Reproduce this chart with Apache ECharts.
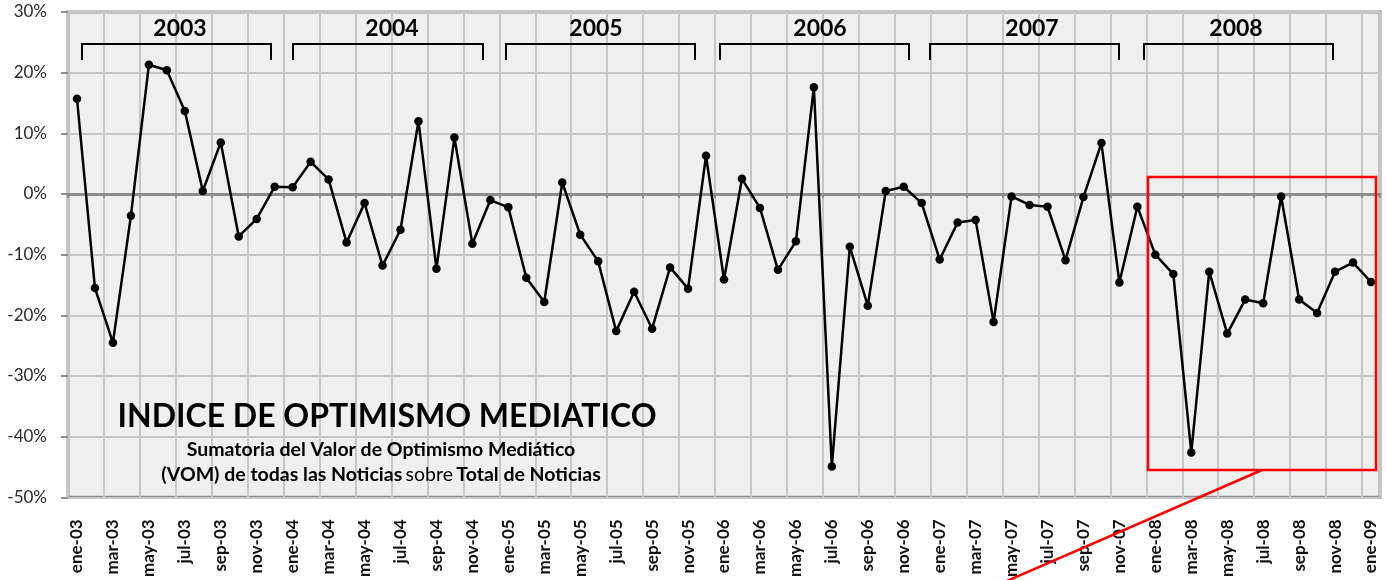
<!DOCTYPE html>
<html lang="es">
<head>
<meta charset="UTF-8">
<title>Indice de Optimismo Mediatico</title>
<script src="https://cdn.jsdelivr.net/npm/echarts@6/dist/echarts.min.js"></script>
<style>
    html, body { margin: 0; padding: 0; background: #fff; }
    #chart { width: 1386px; height: 580px; }
</style>
</head>
<body>
<div id="chart"></div>
<script>
// meses (eje x)
var meses = [
    'ene-03','feb-03','mar-03','abr-03','may-03','jun-03','jul-03','ago-03','sep-03','oct-03','nov-03','dic-03',
    'ene-04','feb-04','mar-04','abr-04','may-04','jun-04','jul-04','ago-04','sep-04','oct-04','nov-04','dic-04',
    'ene-05','feb-05','mar-05','abr-05','may-05','jun-05','jul-05','ago-05','sep-05','oct-05','nov-05','dic-05',
    'ene-06','feb-06','mar-06','abr-06','may-06','jun-06','jul-06','ago-06','sep-06','oct-06','nov-06','dic-06',
    'ene-07','feb-07','mar-07','abr-07','may-07','jun-07','jul-07','ago-07','sep-07','oct-07','nov-07','dic-07',
    'ene-08','feb-08','mar-08','abr-08','may-08','jun-08','jul-08','ago-08','sep-08','oct-08','nov-08','dic-08',
    'ene-09'
];

// indice de optimismo mediatico, en %
var indice = [
    15.7, -15.5, -24.5, -3.6, 21.3, 20.4, 13.7, 0.5, 8.5, -7.0, -4.1, 1.2,
    1.1, 5.3, 2.4, -8.0, -1.5, -11.8, -5.9, 12.0, -12.3, 9.3, -8.2, -1.0,
    -2.2, -13.8, -17.8, 1.9, -6.7, -11.1, -22.6, -16.1, -22.2, -12.1, -15.6, 6.3,
    -14.1, 2.5, -2.3, -12.5, -7.8, 17.6, -44.9, -8.7, -18.4, 0.5, 1.2, -1.5,
    -10.8, -4.7, -4.3, -21.1, -0.4, -1.8, -2.1, -10.9, -0.5, 8.4, -14.6, -2.1,
    -10.0, -13.2, -42.6, -12.8, -23.0, -17.4, -18.0, -0.4, -17.4, -19.6, -12.8, -11.3,
    -14.5
];

// etiquetas de las llaves de año
var anios = ['2003', '2004', '2005', '2006', '2007', '2008'];

var chart = echarts.init(document.getElementById('chart'));
var fuente = 'Lato, "Open Sans", sans-serif';

// llaves dibujadas a mano en el original (posiciones en px)
var llaveX = [[82, 271], [293, 483], [506, 695], [720, 909], [930, 1119], [1144, 1333]];
var textoX = [180, 392, 596, 820, 1032, 1236];
var graficos = [];
anios.forEach(function (a, i) {
    var x0 = llaveX[i][0], x1 = llaveX[i][1];
    graficos.push({
        type: 'polyline',
        shape: { points: [[x0, 60], [x0, 44], [x1, 44], [x1, 60]] },
        style: { stroke: '#000', lineWidth: 2, fill: null },
        z: 10
    });
    graficos.push({
        type: 'text',
        x: textoX[i], y: 29,
        style: {
            text: a, font: 'bold 23px ' + fuente,
            fill: '#000', align: 'center', verticalAlign: 'middle'
        },
        z: 10
    });
});

graficos.push({
    type: 'text',
    x: 387, y: 417,
    style: {
        text: 'INDICE DE OPTIMISMO MEDIATICO',
        font: 'bold 32px ' + fuente,
        fill: '#000', align: 'center', verticalAlign: 'middle'
    },
    z: 10
}, {
    type: 'text',
    x: 381, y: 450,
    style: {
        text: 'Sumatoria del Valor de Optimismo Mediático',
        font: 'bold 19.5px ' + fuente,
        fill: '#000', align: 'center', verticalAlign: 'middle'
    },
    z: 10
}, {
    type: 'text',
    x: 381, y: 475,
    style: {
        text: '{b|(VOM) de todas las Noticias} {n|sobre} {b|Total de Noticias}',
        align: 'center', verticalAlign: 'middle',
        rich: {
            b: { font: 'bold 19.5px ' + fuente, fill: '#000' },
            n: { font: '19.5px ' + fuente, fill: '#000' }
        }
    },
    z: 10
}, {
    type: 'rect',
    shape: { x: 1148, y: 177, width: 228, height: 293 },
    style: { fill: null, stroke: '#ff0000', lineWidth: 2.5 },
    z: 10
}, {
    type: 'line',
    shape: { x1: 1262, y1: 470, x2: 1000, y2: 584 },
    style: { stroke: '#ff0000', lineWidth: 2.5 },
    z: 10
});

chart.setOption({
    animation: false,
    grid: {
        left: 68, right: 6, top: 12, bottom: 82,
        show: true,
        backgroundColor: '#efefef',
        borderColor: '#8d8d8d',
        borderWidth: 3
    },
    xAxis: [{
        type: 'category',
        data: meses,
        boundaryGap: true,
        axisLine: { show: false, onZero: false },
        axisTick: { show: false, interval: 1 },
        axisLabel: {
            interval: 1, rotate: 90, margin: 22,
            fontFamily: fuente, fontWeight: 'bold', fontSize: 17, color: '#111'
        },
        splitLine: { show: true, interval: 1, lineStyle: { color: '#c6c6c6', width: 2 } }
    }, {
        type: 'category',
        data: meses,
        position: 'bottom',
        boundaryGap: true,
        axisLine: { show: true, onZero: true, lineStyle: { color: '#8d8d8d', width: 3 } },
        axisTick: { show: true, interval: 1, length: 4, lineStyle: { color: '#8d8d8d', width: 2 } },
        axisLabel: { show: false },
        splitLine: { show: false }
    }],
    yAxis: {
        type: 'value',
        min: -50, max: 30, interval: 10,
        axisLine: { show: false },
        axisTick: { show: true, length: 7, lineStyle: { color: '#8d8d8d', width: 2 } },
        axisLabel: {
            formatter: '{value}%', margin: 21,
            fontFamily: fuente, fontSize: 17, color: '#2a2a2a'
        },
        splitLine: { lineStyle: { color: '#c6c6c6', width: 2 } }
    },
    series: [{
        type: 'line',
        data: indice,
        xAxisIndex: 0,
        symbol: 'circle',
        symbolSize: 8.5,
        lineStyle: { color: '#000', width: 2.5 },
        itemStyle: { color: '#000' },
        z: 5
    }],
    graphic: graficos
});
</script>
</body>
</html>
